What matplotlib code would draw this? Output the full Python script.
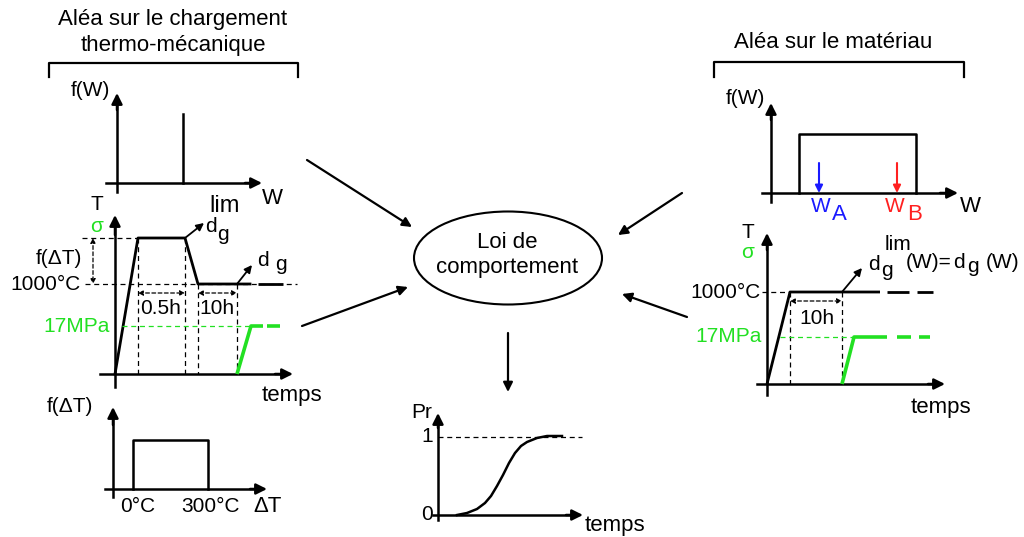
import matplotlib
matplotlib.use("Agg")
import matplotlib.pyplot as plt
from matplotlib.patches import Ellipse

plt.rcParams['font.family'] = ['Liberation Sans', 'DejaVu Sans']

GREEN = '#22e022'
BLUE = '#1a1aff'
RED = '#ff2020'
FS = 15
FS_BIG = 16

# ---- diagram geometry (pixel space of the figure) ----
# top-left f(W) : Dirac
fw1_spike_x = [183, 183]
fw1_spike_y = [183, 114]
# left T(t) loading path
tl_time = [115, 138, 185, 198, 250]
tl_temp = [374, 238, 238, 284, 284]
tl_sig_time = [237, 251, 263]
tl_sig_val = [374, 326, 326]
# bottom-left f(dT) uniform
fdt_x = [133, 133, 208, 208]
fdt_y = [489, 440, 440, 489]
# top-right f(W) uniform
fw2_x = [799, 799, 916, 916]
fw2_y = [193, 134, 134, 193]
# right T(t) path
tr_time = [767, 790, 880]
tr_temp = [384, 292, 292]
tr_sig_time = [842, 854, 887]
tr_sig_val = [384, 337, 337]
# Pr(t) sigmoid
pr_time = [457, 467, 477, 485, 491, 497, 503, 509, 515, 521, 527, 537, 547, 562]
pr_val = [515, 513, 509, 503, 496, 486, 475, 463, 453, 446, 442, 438, 436, 436]

fig = plt.figure(figsize=(10.24, 5.37), dpi=100)
ax = fig.add_axes([0, 0, 1, 1])
ax.set_xlim(0, 1024)
ax.set_ylim(537, 0)
ax.axis('off')


def arrow(x0, y0, x1, y1, lw=1.8, ms=16, color='k', style='-|>', ls='-'):
    ax.annotate('', xy=(x1, y1), xytext=(x0, y0),
                arrowprops=dict(arrowstyle=style, lw=lw, color=color,
                                mutation_scale=ms, shrinkA=0, shrinkB=0,
                                linestyle=ls))


def txt(x, y, s, color='k', ha='center', fs=FS, va='center'):
    ax.text(x, y, s, color=color, ha=ha, va=va, fontsize=fs)


def dashed(xs, ys, color='k', lw=0.9):
    ax.plot(xs, ys, color=color, lw=lw, ls=(0, (4, 3)))


def darrow(x0, x1, y):
    ax.annotate('', xy=(x1, y), xytext=(x0, y),
                arrowprops=dict(arrowstyle='<|-|>', lw=0.9, color='k',
                                mutation_scale=7, shrinkA=0, shrinkB=0,
                                linestyle=(0, (3, 2))))


def varrow(x, y0, y1):
    ax.annotate('', xy=(x, y1), xytext=(x, y0),
                arrowprops=dict(arrowstyle='<|-|>', lw=0.9, color='k',
                                mutation_scale=7, shrinkA=0, shrinkB=0,
                                linestyle=(0, (3, 2))))


def seg(x0, x1, y, color='k', lw=2):
    ax.plot([x0, x1], [y, y], color=color, lw=lw, solid_capstyle='butt')


# ---- titles & brackets ----
txt(173, 20, 'Aléa sur le chargement', fs=FS_BIG)
txt(173, 46, 'thermo-mécanique', fs=FS_BIG)
ax.plot([49, 49, 298, 298], [77, 63, 63, 77], color='k', lw=1.6)
txt(833, 42, 'Aléa sur le matériau', fs=FS_BIG)
ax.plot([714, 714, 964, 964], [77, 62, 62, 77], color='k', lw=1.6)

# ---- top-left f(W) ----
ax.plot([117, 117], [192, 100], color='k', lw=1.8)
arrow(117, 110, 117, 93)
ax.plot([106, 255], [183, 183], color='k', lw=1.8)
arrow(245, 183, 262, 183)
ax.plot(fw1_spike_x, fw1_spike_y, color='k', lw=1.8)
txt(90, 90, 'f(W)')
txt(272, 198, 'W', fs=FS_BIG)

# ---- left T(t) ----
ax.plot([115, 115], [387, 225], color='k', lw=1.8)
arrow(115, 235, 115, 215)
ax.plot([100, 285], [374, 374], color='k', lw=1.8)
arrow(275, 374, 293, 374)
txt(97, 205, 'T')
txt(97, 226, 'σ', color=GREEN)
dashed([82, 138], [238, 238])
dashed([85, 297], [284, 284])
varrow(93, 238, 284)
for xv, y0 in [(138, 238), (185, 238), (198, 284), (237, 284)]:
    dashed([xv, xv], [y0, 374])
darrow(138, 185, 293)
darrow(198, 237, 293)
txt(161, 309, '0.5h')
txt(217, 309, '10h')
ax.plot(tl_time, tl_temp, color='k', lw=2)
seg(258, 283, 284)
dashed([122, 251], [326, 326], color=GREEN)
ax.plot(tl_sig_time, tl_sig_val, color=GREEN, lw=2.6, solid_capstyle='butt')
seg(267, 280, 326, color=GREEN, lw=2.6)
txt(59, 258, 'f(ΔT)')
txt(45, 284, '1000°C')
txt(77, 326, '17MPa', color=GREEN)
arrow(185, 238, 204, 223, lw=1.3, ms=11)
txt(205, 226, 'd', ha='left')
txt(217, 234, 'g', ha='left')
txt(209, 206, 'lim', ha='left', fs=17)
arrow(237, 284, 252, 265, lw=1.3, ms=11)
txt(257, 261, 'd', ha='left')
txt(275, 265, 'g', ha='left')
txt(292, 395, 'temps', fs=FS_BIG)

# ---- bottom-left f(dT) ----
ax.plot([113, 113], [497, 415], color='k', lw=1.8)
arrow(113, 425, 113, 407)
ax.plot([105, 260], [489, 489], color='k', lw=1.8)
arrow(250, 489, 267, 489)
ax.plot(fdt_x, fdt_y, color='k', lw=1.8)
txt(70, 407, 'f(ΔT)')
txt(138, 506, '0°C')
txt(210, 506, '300°C')
txt(268, 506, 'ΔT', fs=FS_BIG)

# ---- top-right f(W) ----
ax.plot([771, 771], [202, 110], color='k', lw=1.8)
arrow(771, 120, 771, 103)
ax.plot([762, 950], [193, 193], color='k', lw=1.8)
arrow(940, 193, 958, 193)
ax.plot(fw2_x, fw2_y, color='k', lw=1.8)
arrow(819, 163, 819, 193, color=BLUE, lw=1.5, ms=11)
arrow(897, 163, 897, 193, color=RED, lw=1.5, ms=11)
txt(745, 98, 'f(W)')
txt(970, 207, 'W', fs=FS_BIG)
txt(811, 206, 'W', color=BLUE, ha='left')
txt(832, 214, 'A', color=BLUE, ha='left', fs=FS_BIG)
txt(885, 206, 'W', color=RED, ha='left')
txt(907, 214, 'B', color=RED, ha='left', fs=FS_BIG)

# ---- right T(t) ----
ax.plot([767, 767], [395, 243], color='k', lw=1.8)
arrow(767, 250, 767, 233)
ax.plot([757, 935], [384, 384], color='k', lw=1.8)
arrow(928, 384, 945, 384)
txt(748, 232, 'T')
txt(748, 253, 'σ', color=GREEN)
dashed([762, 790], [292, 292])
dashed([790, 790], [292, 384])
dashed([842, 842], [292, 384])
darrow(790, 842, 301)
txt(817, 319, '10h')
ax.plot(tr_time, tr_temp, color='k', lw=2, solid_capstyle='butt')
seg(887, 909, 292)
seg(917, 933, 292)
dashed([780, 854], [337, 337], color=GREEN)
ax.plot(tr_sig_time, tr_sig_val, color=GREEN, lw=2.6, solid_capstyle='butt')
seg(897, 911, 337, color=GREEN, lw=2.6)
seg(919, 930, 337, color=GREEN, lw=2.6)
txt(725, 292, '1000°C')
txt(729, 337, '17MPa', color=GREEN)
arrow(842, 292, 862, 268, lw=1.3, ms=11)
txt(868, 264, 'd', ha='left')
txt(881, 271, 'g', ha='left')
txt(885, 244, 'lim', ha='left')
txt(906, 263, '(W)=', ha='left')
txt(953, 263, 'd', ha='left')
txt(967, 267, 'g', ha='left')
txt(986, 263, '(W)', ha='left')
txt(941, 407, 'temps', fs=FS_BIG)

# ---- center ----
ax.add_patch(Ellipse((508, 258), 188, 93, fill=False, lw=1.5, ec='k'))
txt(507, 243, 'Loi de', fs=FS_BIG)
txt(507, 268, 'comportement', fs=FS_BIG)
arrow(307, 160, 412, 227, lw=1.6, ms=14)
arrow(302, 326, 408, 287, lw=1.6, ms=14)
arrow(682, 193, 618, 235, lw=1.6, ms=14)
arrow(687, 317, 622, 294, lw=1.6, ms=14)
arrow(508, 333, 508, 392, lw=1.6, ms=14)

# ---- Pr(t) ----
ax.plot([438, 438], [520, 420], color='k', lw=1.8)
arrow(438, 428, 438, 413)
ax.plot([433, 575], [515, 515], color='k', lw=1.8)
arrow(566, 515, 583, 515)
dashed([438, 582], [437, 437])
ax.plot(pr_time, pr_val, color='k', lw=1.8)
txt(422, 412, 'Pr')
txt(427, 437, '1')
txt(427, 515, '0')
txt(615, 526, 'temps', fs=FS_BIG)

fig.savefig('out.png', dpi=100)
